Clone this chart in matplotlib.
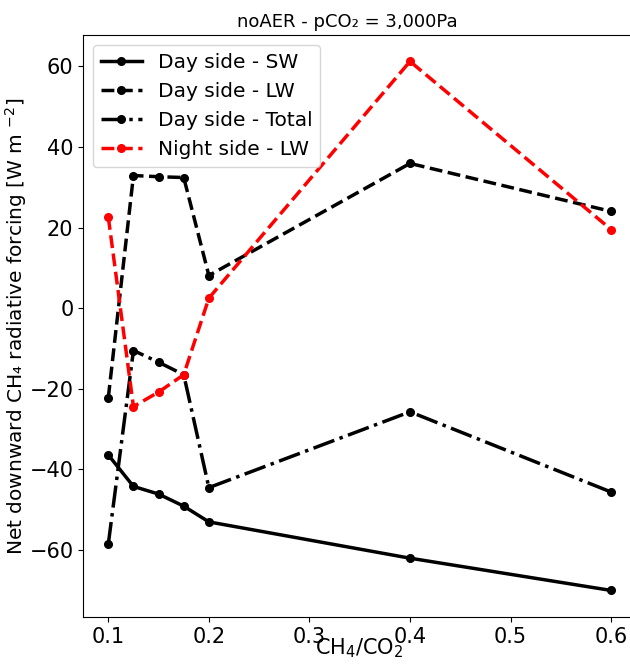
import matplotlib
matplotlib.use("Agg")
import matplotlib.pyplot as plt

ratio = [0.1, 0.125, 0.15, 0.175, 0.2, 0.4, 0.6]
day_sw = [-36.4, -44.2, -46.1, -49.1, -53.0, -62.0, -70.0]
day_lw = [-22.2, 32.9, 32.6, 32.4, 8.1, 35.9, 24.0]
day_total = [-58.5, -10.5, -13.4, -16.5, -44.5, -25.7, -45.6]
night_lw = [22.6, -24.4, -20.8, -16.5, 2.5, 61.2, 19.5]

fig = plt.figure(figsize=(6.3, 6.72), dpi=100)
ax = fig.add_axes([0.132, 0.082, 0.878, 0.866])

lw = 2.5
ms = 5.5
ax.plot(ratio, day_sw, '-', color='black', marker='o', lw=lw, ms=ms, label='Day side - SW')
ax.plot(ratio, day_lw, '--', color='black', marker='o', lw=lw, ms=ms, label='Day side - LW')
ax.plot(ratio, day_total, '-.', color='black', marker='o', lw=lw, ms=ms, label='Day side - Total')
ax.plot(ratio, night_lw, '--', color='red', marker='o', lw=lw, ms=ms, label='Night side - LW')

ax.set_xticks([0.1, 0.2, 0.3, 0.4, 0.5, 0.6])
ax.set_yticks([-60, -40, -20, 0, 20, 40, 60])
ax.tick_params(labelsize=15)
ax.set_xlabel(r'CH$_4$/CO$_2$', fontsize=15, labelpad=-7)
ax.set_ylabel('Net downward CH\u2084 radiative forcing [W m $^{-2}$]', fontsize=14.5,
              labelpad=0.5)
ax.set_title('noAER - pCO\u2082 = 3,000Pa', fontsize=13, x=0.477)
ax.legend(loc='upper left', fontsize=14.5, handlelength=2.0, borderaxespad=0.5)

fig.savefig('out.png', dpi=100)
